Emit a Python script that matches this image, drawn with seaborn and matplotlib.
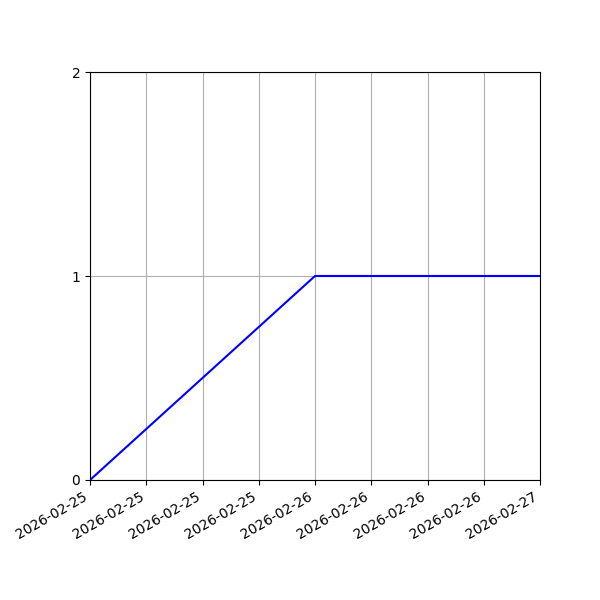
import pandas as pd
import seaborn as sns
import matplotlib
matplotlib.use('Agg')
import matplotlib.pyplot as plt
import matplotlib.dates as mdates

# données du graphique
dates = ['2026-02-25 00:00', '2026-02-26 00:00', '2026-02-27 00:00']
values = [0, 1, 1]
y_ticks = [0, 1, 2]

df = pd.DataFrame({'date': pd.to_datetime(dates), 'value': values})

fig, ax = plt.subplots(figsize=(6, 6), dpi=100)
fig.subplots_adjust(left=0.15, right=0.9, top=0.88, bottom=0.2)

sns.lineplot(data=df, x='date', y='value', color='blue', ax=ax)

ax.set_xlim(df['date'].min(), df['date'].max())
ax.set_ylim(0, 2)
ax.set_yticks(y_ticks)
ax.xaxis.set_major_locator(mdates.HourLocator(byhour=[0, 6, 12, 18]))
ax.xaxis.set_major_formatter(mdates.DateFormatter('%Y-%m-%d'))
ax.set_xlabel('')
ax.set_ylabel('')
ax.grid(True)
plt.setp(ax.get_xticklabels(), rotation=30, ha='right')

plt.savefig('out.png')
